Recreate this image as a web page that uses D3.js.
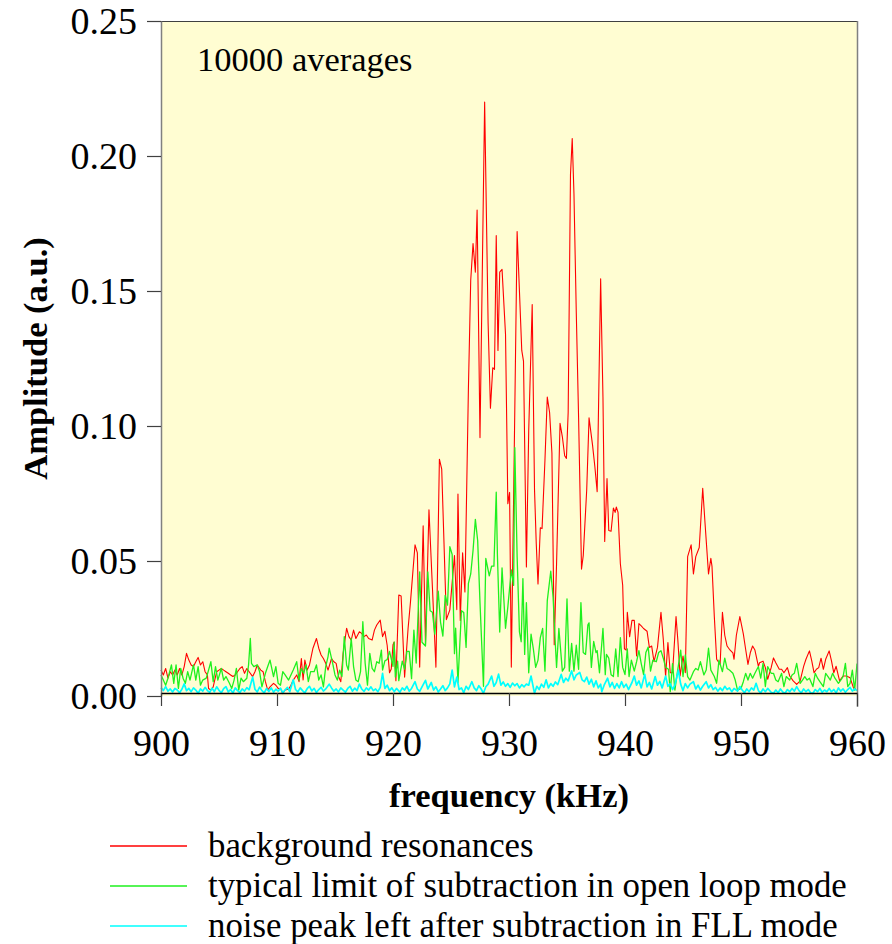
<!DOCTYPE html>
<html><head><meta charset="utf-8">
<script src="https://cdn.jsdelivr.net/npm/d3@7"></script>
<style>body{margin:0;background:#fff}svg text{font-family:"Liberation Serif","Times New Roman",serif}</style>
</head><body>
<svg id="chart" width="892" height="944"></svg>
<script>
// amplitude values in thousandths of a.u. (milli a.u.), [frequency kHz, amplitude]
const backgroundResonances = [
[900.0,9.6],[900.2,7.8],[900.4,10.2],[900.6,6.6],[900.8,9.0],[901.0,7.8],[901.2,9.6],[901.4,7.8],[901.6,10.2],[901.8,7.8],[902.0,10.9],[902.2,15.8],[902.4,13.3],[902.6,11.5],[902.8,10.9],[903.0,12.7],[903.2,14.3],[903.4,11.5],[903.6,12.7],[903.8,9.0],[904.0,7.8],[904.1,2.8],[904.3,2.2],[904.5,3.4],[904.8,9.0],[905.0,9.6],[905.2,10.2],[905.4,9.6],[905.6,9.0],[905.8,8.4],[906.0,7.8],[906.2,7.2],[906.4,7.8],[906.6,9.0],[906.8,10.2],[907.0,10.9],[907.2,8.4],[907.4,10.2],[907.6,9.0],[907.9,7.2],[908.1,9.0],[908.3,11.5],[908.6,9.6],[908.8,9.0],[909.0,5.3],[909.2,2.2],[909.4,3.4],[909.7,4.7],[909.9,4.0],[910.1,2.8],[910.3,2.8],[910.5,0.9],[910.7,2.2],[911.0,2.5],[911.2,4.0],[911.4,5.9],[911.7,7.8],[911.9,5.3],[912.1,13.9],[912.25,5.9],[912.4,13.3],[912.6,9.6],[912.8,11.5],[913.1,17.7],[913.4,21.3],[913.6,17.7],[913.8,15.2],[914.0,13.9],[914.2,12.1],[914.4,9.6],[914.7,13.9],[914.9,12.7],[915.1,12.1],[915.3,7.2],[915.5,5.3],[915.7,15.8],[916.0,25.1],[916.2,22.0],[916.4,20.7],[916.6,24.4],[916.8,21.3],[917.1,23.8],[917.3,23.2],[917.5,22.0],[917.7,22.6],[917.9,21.3],[918.2,20.7],[918.4,24.4],[918.6,26.3],[918.9,28.1],[919.1,22.0],[919.3,24.0],[919.5,18.7],[919.7,8.6],[919.85,10.0],[920.0,19.0],[920.1,20.0],[920.25,5.7],[920.5,37.4],[920.7,37.0],[921.0,7.0],[921.3,25.0],[921.5,34.5],[921.9,56.0],[922.1,53.0],[922.3,10.7],[922.6,63.0],[922.8,19.0],[923.1,69.0],[923.4,40.0],[923.7,10.7],[924.0,87.7],[924.2,84.0],[924.6,28.3],[924.9,31.9],[925.3,52.0],[925.5,32.0],[925.6,74.8],[925.8,28.0],[926.0,53.0],[926.2,38.5],[926.5,113.7],[926.7,154.0],[926.9,167.6],[927.1,157.0],[927.25,180.0],[927.5,95.7],[927.9,220.0],[928.2,138.0],[928.4,106.6],[928.6,121.6],[928.75,121.0],[928.9,170.5],[929.05,128.0],[929.2,157.0],[929.4,158.0],[929.7,134.0],[929.9,71.2],[930.05,75.4],[930.2,10.7],[930.5,106.0],[930.7,172.0],[930.9,150.0],[931.1,128.0],[931.25,124.0],[931.5,47.8],[931.7,98.3],[932.0,145.0],[932.2,76.4],[932.35,56.4],[932.5,41.5],[932.7,62.3],[932.85,62.0],[933.1,87.4],[933.3,110.7],[933.5,105.0],[933.7,90.0],[933.9,19.0],[934.1,49.0],[934.4,101.0],[934.6,96.0],[934.8,89.0],[934.95,88.0],[935.1,105.0],[935.3,193.0],[935.45,206.5],[935.6,186.0],[935.8,142.0],[936.0,103.0],[936.25,47.0],[936.4,52.0],[936.7,76.4],[936.9,103.0],[937.2,93.0],[937.4,85.0],[937.6,75.7],[937.9,154.5],[938.1,110.7],[938.25,57.2],[938.45,80.5],[938.6,61.3],[938.8,61.0],[939.0,69.6],[939.15,68.0],[939.25,70.0],[939.4,68.0],[939.6,49.0],[939.8,41.0],[939.95,17.5],[940.1,17.0],[940.2,31.0],[940.4,22.0],[940.6,28.0],[940.8,28.0],[941.0,14.8],[941.2,26.8],[941.4,26.0],[941.6,25.0],[941.9,24.0],[942.1,18.0],[942.3,18.5],[942.5,12.7],[942.8,18.0],[943.1,31.0],[943.3,21.0],[943.5,7.2],[943.7,19.8],[943.9,8.6],[944.1,8.6],[944.4,29.4],[944.55,21.0],[944.75,7.4],[945.0,14.8],[945.2,8.6],[945.4,51.6],[945.7,56.0],[945.9,45.2],[946.1,51.6],[946.4,55.0],[946.7,76.9],[946.9,64.0],[947.2,45.2],[947.4,51.0],[947.5,48.0],[947.7,29.4],[947.9,13.6],[948.2,11.7],[948.4,31.0],[948.6,22.5],[948.8,18.5],[949.0,17.3],[949.3,16.0],[949.4,13.6],[949.6,22.5],[949.9,29.4],[950.2,23.0],[950.4,17.3],[950.6,11.7],[950.8,16.0],[951.0,18.5],[951.2,17.0],[951.5,11.0],[951.6,12.3],[951.9,12.9],[952.1,10.5],[952.3,6.2],[952.6,10.5],[952.8,14.1],[953.0,12.3],[953.3,9.9],[953.5,9.9],[953.7,8.6],[954.0,10.5],[954.2,7.4],[954.5,5.6],[954.8,4.3],[955.1,5.6],[955.4,11.0],[955.6,13.6],[955.9,16.7],[956.1,13.0],[956.3,8.6],[956.5,9.9],[956.7,10.5],[956.9,14.0],[957.1,9.9],[957.3,13.6],[957.6,16.7],[957.8,13.0],[958.0,8.6],[958.2,11.0],[958.5,5.6],[958.8,7.4],[959.1,7.4],[959.4,6.8],[959.7,3.0],[959.9,2.5]
];
const openLoopLimit = [
[900.0,7.8],[900.2,5.9],[900.4,4.0],[900.6,6.6],[900.9,11.5],[901.1,4.7],[901.3,11.5],[901.5,2.8],[901.7,10.2],[901.9,6.6],[902.1,4.7],[902.3,9.0],[902.5,5.9],[902.8,11.5],[903.0,5.9],[903.2,10.9],[903.4,4.0],[903.6,5.9],[903.9,6.6],[904.1,9.6],[904.3,12.7],[904.5,5.3],[904.7,10.9],[904.9,5.9],[905.2,10.2],[905.4,5.9],[905.6,7.2],[905.9,4.7],[906.1,2.8],[906.3,5.9],[906.5,10.2],[906.7,2.2],[906.9,6.6],[907.1,5.3],[907.4,6.6],[907.55,11.5],[907.7,21.3],[907.8,12.1],[908.0,10.9],[908.3,11.5],[908.5,9.0],[908.7,3.4],[909.0,8.4],[909.2,10.9],[909.4,13.3],[909.7,7.2],[909.9,10.9],[910.1,4.7],[910.3,4.0],[910.5,9.0],[910.7,7.8],[911.0,5.9],[911.2,7.8],[911.4,9.6],[911.7,12.7],[911.9,5.9],[912.1,10.2],[912.3,8.4],[912.5,11.5],[912.7,5.3],[912.9,9.0],[913.2,9.0],[913.4,11.5],[913.6,5.9],[913.8,7.8],[914.0,3.4],[914.2,10.9],[914.4,14.6],[914.5,17.7],[914.8,12.1],[915.0,7.8],[915.2,5.9],[915.4,9.6],[915.6,7.2],[915.8,22.0],[916.0,11.5],[916.15,9.6],[916.4,21.3],[916.6,10.9],[916.8,5.9],[917.0,5.3],[917.2,9.0],[917.4,27.5],[917.6,12.1],[917.8,4.0],[918.0,15.8],[918.2,10.2],[918.4,9.0],[918.6,12.7],[918.8,12.1],[919.0,17.0],[919.1,9.6],[919.3,13.0],[919.5,13.5],[919.7,16.5],[920.0,11.0],[920.1,19.9],[920.2,7.0],[920.4,12.9],[920.5,5.7],[920.8,12.9],[921.0,9.9],[921.2,16.5],[921.4,16.5],[921.6,6.4],[921.8,24.4],[922.0,12.2],[922.3,46.0],[922.5,19.9],[922.8,18.5],[923.0,46.0],[923.2,31.6],[923.4,31.0],[923.6,22.9],[923.9,38.8],[924.1,27.3],[924.3,22.2],[924.5,37.3],[924.7,33.7],[924.9,55.3],[925.1,52.4],[925.3,15.7],[925.4,25.1],[925.6,5.0],[925.9,31.6],[926.1,30.9],[926.3,18.0],[926.5,41.7],[926.7,45.2],[926.9,53.9],[927.1,65.4],[927.3,57.5],[927.5,34.5],[927.8,3.6],[928.0,51.0],[928.3,44.5],[928.5,48.1],[928.7,48.1],[928.9,75.5],[929.0,52.4],[929.2,23.7],[929.4,47.4],[929.7,25.1],[929.9,33.0],[930.2,46.7],[930.4,41.0],[930.5,92.0],[930.7,51.7],[930.9,23.7],[931.05,20.1],[931.2,43.5],[931.35,15.4],[931.5,34.6],[931.7,8.6],[931.9,22.9],[932.1,17.4],[932.3,10.6],[932.5,13.3],[932.7,21.6],[932.9,25.0],[933.1,9.2],[933.3,35.3],[933.6,46.2],[933.8,36.6],[934.0,18.8],[934.1,10.6],[934.3,25.0],[934.6,9.2],[934.8,10.6],[935.0,36.0],[935.2,9.2],[935.4,19.5],[935.6,9.2],[935.8,18.8],[936.0,9.9],[936.2,34.6],[936.4,16.1],[936.6,15.4],[936.8,26.4],[936.9,27.1],[937.1,10.6],[937.3,20.2],[937.5,16.1],[937.6,16.8],[937.8,8.6],[938.1,25.0],[938.3,7.9],[938.4,15.4],[938.6,14.0],[938.8,7.9],[939.0,7.2],[939.2,17.4],[939.4,7.2],[939.6,21.6],[939.8,10.6],[940.0,7.9],[940.2,17.4],[940.35,7.2],[940.55,13.3],[940.8,9.2],[941.0,12.7],[941.2,16.8],[941.4,12.0],[941.6,7.9],[941.8,16.1],[942.0,18.1],[942.2,9.2],[942.4,13.3],[942.7,12.7],[942.9,16.1],[943.1,16.8],[943.3,14.0],[943.5,10.6],[943.75,9.9],[943.9,1.6],[944.1,12.0],[944.3,2.2],[944.5,8.4],[944.8,17.0],[945.0,7.2],[945.2,15.2],[945.4,7.2],[945.6,5.9],[945.9,9.0],[946.1,10.2],[946.3,9.6],[946.5,12.7],[946.8,7.8],[947.0,9.6],[947.2,17.7],[947.4,9.6],[947.7,7.2],[947.9,4.7],[948.1,13.3],[948.4,9.0],[948.6,14.0],[948.8,10.2],[949.0,9.6],[949.3,8.4],[949.5,5.9],[949.7,2.2],[950.0,2.8],[950.2,5.3],[950.4,8.4],[950.6,5.9],[950.8,8.4],[951.0,6.6],[951.2,8.4],[951.5,10.9],[951.7,6.6],[951.9,12.1],[952.1,3.5],[952.3,10.9],[952.6,8.4],[952.8,8.4],[953.0,5.9],[953.2,5.3],[953.5,8.4],[953.7,3.5],[953.9,7.2],[954.2,5.9],[954.4,7.8],[954.6,8.4],[954.8,12.1],[955.1,4.7],[955.3,5.9],[955.5,7.2],[955.7,5.9],[955.9,6.6],[956.2,3.5],[956.4,8.4],[956.6,6.6],[956.8,5.3],[957.1,3.5],[957.3,8.4],[957.5,7.2],[957.7,5.9],[957.9,8.4],[958.1,6.6],[958.4,4.7],[958.6,5.9],[958.8,7.2],[959.0,12.1],[959.2,3.5],[959.4,4.7],[959.6,9.6],[959.8,2.2],[960.0,12.0]
];
const fllNoise = [
[900.0,3.1],[900.2,2.0],[900.4,3.5],[900.6,1.8],[900.8,2.6],[901.0,1.5],[901.2,2.8],[901.4,2.2],[901.6,1.2],[901.8,2.5],[902.0,4.5],[902.2,2.0],[902.4,2.8],[902.6,1.6],[902.8,3.0],[903.0,2.2],[903.2,1.0],[903.4,2.6],[903.6,1.8],[903.8,3.2],[904.0,2.0],[904.2,1.4],[904.4,2.9],[904.6,1.6],[904.8,3.4],[905.0,2.1],[905.2,1.2],[905.4,2.7],[905.6,3.5],[905.8,1.5],[906.0,2.4],[906.2,1.1],[906.4,3.0],[906.6,2.0],[906.8,1.3],[907.0,2.6],[907.2,1.8],[907.4,3.1],[907.6,2.3],[907.9,7.0],[908.1,2.5],[908.3,1.5],[908.5,3.3],[908.7,2.0],[908.9,1.2],[909.1,2.8],[909.3,1.7],[909.5,3.0],[909.7,1.4],[909.9,2.5],[910.1,1.8],[910.3,2.9],[910.5,1.2],[910.7,2.3],[910.9,3.2],[911.1,1.6],[911.4,6.0],[911.6,2.4],[911.8,1.5],[912.0,3.0],[912.2,2.0],[912.4,1.2],[912.6,2.7],[912.8,3.6],[913.0,1.9],[913.2,2.8],[913.4,1.3],[913.6,2.4],[913.8,3.2],[914.0,1.8],[914.2,2.6],[914.5,4.4],[914.7,3.0],[914.9,1.8],[915.1,2.6],[915.3,1.5],[915.5,3.0],[915.7,2.2],[915.9,1.4],[916.1,2.8],[916.3,3.6],[916.5,1.8],[916.7,2.9],[916.9,2.0],[917.1,4.4],[917.3,2.6],[917.5,1.7],[917.7,3.0],[917.9,2.2],[918.1,3.4],[918.3,2.0],[918.5,2.6],[918.7,1.6],[918.9,3.2],[919.1,8.4],[919.3,2.8],[919.5,4.0],[919.7,2.0],[919.9,3.0],[920.1,1.6],[920.3,2.8],[920.6,1.4],[920.8,3.0],[921.0,2.2],[921.2,3.6],[921.4,1.8],[921.6,2.8],[921.9,5.3],[922.1,2.6],[922.3,1.7],[922.5,3.4],[922.8,5.8],[923.0,2.6],[923.3,5.0],[923.5,2.2],[923.7,3.4],[923.9,1.5],[924.1,2.6],[924.3,3.8],[924.5,2.0],[924.7,3.0],[924.9,4.5],[925.1,9.6],[925.3,3.4],[925.5,7.0],[925.7,2.4],[925.9,3.0],[926.1,1.2],[926.3,3.6],[926.5,2.4],[926.8,5.3],[927.0,3.0],[927.2,2.0],[927.4,3.8],[927.6,2.6],[927.8,1.0],[928.0,3.4],[928.2,4.4],[928.5,7.4],[928.7,3.6],[928.9,5.0],[929.1,8.1],[929.3,4.0],[929.5,5.2],[929.7,3.6],[929.9,4.6],[930.1,3.2],[930.3,4.8],[930.5,3.8],[930.7,4.6],[930.9,3.0],[931.1,4.2],[931.3,3.4],[931.5,4.4],[931.7,4.0],[931.9,7.4],[932.2,1.0],[932.4,3.6],[932.6,2.4],[932.8,4.4],[933.0,3.2],[933.2,6.0],[933.4,3.0],[933.6,4.6],[933.8,3.6],[934.0,5.2],[934.2,4.2],[934.5,8.0],[934.7,5.0],[934.9,6.6],[935.1,5.6],[935.4,9.3],[935.6,6.0],[935.8,7.8],[936.1,8.7],[936.3,6.0],[936.5,5.3],[936.7,7.0],[936.9,4.4],[937.1,6.2],[937.3,3.4],[937.5,5.6],[937.7,3.0],[937.9,4.4],[938.0,1.6],[938.2,4.0],[938.5,6.6],[938.7,3.4],[938.9,5.0],[939.1,2.8],[939.3,4.6],[939.5,3.0],[939.7,5.3],[939.9,3.2],[940.1,4.4],[940.3,2.4],[940.6,5.0],[940.8,7.4],[941.0,4.0],[941.2,5.6],[941.4,3.0],[941.7,8.0],[941.9,3.4],[942.1,5.0],[942.3,2.6],[942.6,7.2],[942.8,4.0],[943.0,5.4],[943.2,3.0],[943.5,7.4],[943.7,3.6],[943.9,4.6],[944.1,2.4],[944.3,4.0],[944.6,9.6],[944.8,4.4],[945.0,2.0],[945.2,4.6],[945.4,3.0],[945.6,4.4],[945.9,5.3],[946.1,2.6],[946.3,4.0],[946.5,2.2],[946.7,3.6],[947.0,5.3],[947.2,3.0],[947.4,4.2],[947.6,2.4],[947.8,3.2],[948.0,1.8],[948.2,3.0],[948.4,2.0],[948.6,3.6],[948.8,2.4],[949.0,3.0],[949.2,1.6],[949.4,2.8],[949.7,1.8],[949.9,3.5],[950.1,2.2],[950.3,1.2],[950.5,2.6],[950.7,1.6],[950.9,3.0],[951.1,2.2],[951.3,4.7],[951.5,2.0],[951.7,1.2],[951.9,2.6],[952.1,1.6],[952.3,2.8],[952.6,1.4],[952.8,1.0],[953.0,2.2],[953.2,1.2],[953.4,2.6],[953.6,1.5],[953.8,1.0],[954.0,2.4],[954.2,1.6],[954.4,2.8],[954.6,1.8],[954.8,3.5],[955.0,2.0],[955.2,1.2],[955.4,2.6],[955.6,1.6],[955.8,2.4],[956.0,1.2],[956.2,1.0],[956.4,2.4],[956.6,1.6],[956.8,2.8],[957.0,1.4],[957.2,2.2],[957.4,1.6],[957.6,2.8],[957.8,1.6],[958.0,2.4],[958.2,1.2],[958.4,3.0],[958.6,1.8],[958.8,2.6],[959.0,1.4],[959.2,2.4],[959.4,3.2],[959.6,1.8],[959.8,2.6],[960.0,2.0]
];
const xTicks = [900, 910, 920, 930, 940, 950, 960];
const yTicks = [0, 0.05, 0.10, 0.15, 0.20, 0.25];
const seriesNames = ["background resonances", "typical limit of subtraction in open loop mode", "noise peak left after subtraction in FLL mode"];
const seriesColors = ["#ff0000", "#1ef01e", "#00ffff"];
const annotation = "10000 averages";

const FONT = "'Liberation Serif', 'Times New Roman', serif";
const svg = d3.select("#chart");
const L = 161, R = 857, T = 21, B = 696;
const x = d3.scaleLinear().domain([900, 960]).range([L, R]);
const y = d3.scaleLinear().domain([0, 0.25]).range([B, T]);

svg.append("rect").attr("x", L).attr("y", T).attr("width", R - L + 1).attr("height", B - T)
  .attr("fill", "#fffdd2");

const line = d3.line().x(d => x(d[0])).y(d => y(d[1] / 1000));
const g = svg.append("g");
g.append("path").datum(backgroundResonances).attr("d", line).attr("fill", "none")
  .attr("stroke", seriesColors[0]).attr("stroke-width", 1.1).attr("stroke-linejoin", "round");
g.append("path").datum(openLoopLimit).attr("d", line).attr("fill", "none")
  .attr("stroke", seriesColors[1]).attr("stroke-width", 1.3).attr("stroke-linejoin", "round");
g.append("path").datum(fllNoise).attr("d", line).attr("fill", "none")
  .attr("stroke", seriesColors[2]).attr("stroke-width", 1.7).attr("stroke-linejoin", "round");

// frame: top and right borders
svg.append("line").attr("x1", L).attr("x2", R + 1).attr("y1", T + 0.5).attr("y2", T + 0.5)
  .attr("stroke", "#404040").attr("stroke-width", 1);
svg.append("line").attr("x1", R + 0.5).attr("x2", R + 0.5).attr("y1", T).attr("y2", 707)
  .attr("stroke", "#808080").attr("stroke-width", 1.5);

// y axis
const yAxis = svg.append("g").attr("transform", `translate(${L},0)`)
  .call(d3.axisLeft(y).tickValues(yTicks).tickFormat(d3.format(".2f")).tickSize(14).tickPadding(10).tickSizeOuter(0));
yAxis.attr("font-family", FONT);
yAxis.select(".domain").attr("stroke", "#808080").attr("stroke-width", 1.5);
yAxis.selectAll(".tick line").attr("stroke", "#404040").attr("stroke-width", 1.2);
yAxis.selectAll("text").attr("font-size", 38).attr("fill", "#000").attr("font-family", FONT);

// x axis
const xAxisY = B - 3;
const xAxis = svg.append("g").attr("transform", `translate(0,${xAxisY})`)
  .call(d3.axisBottom(x).tickValues(xTicks).tickFormat(d3.format("d")).tickSize(13).tickPadding(23).tickSizeOuter(0));
xAxis.attr("font-family", FONT);
xAxis.select(".domain").attr("stroke", "#000").attr("stroke-width", 1.5);
xAxis.selectAll(".tick line").attr("stroke", "#404040").attr("stroke-width", 1.2);
xAxis.selectAll("text").attr("font-size", 38).attr("fill", "#000").attr("font-family", FONT);

// titles
svg.append("text").attr("x", (L + R) / 2).attr("y", 807).attr("text-anchor", "middle")
  .attr("font-family", FONT).attr("font-size", 34.5).attr("font-weight", "bold").text("frequency (kHz)");
svg.append("text").attr("transform", `translate(47,${(T + B) / 2}) rotate(-90)`)
  .attr("text-anchor", "middle").attr("font-family", FONT).attr("font-size", 34.5)
  .attr("font-weight", "bold").text("Amplitude (a.u.)");
svg.append("text").attr("x", 197).attr("y", 71).attr("font-family", FONT).attr("font-size", 34.5).text(annotation);

// legend
seriesNames.forEach((name, i) => {
  const ly = 846 + i * 40;
  svg.append("line").attr("x1", 110).attr("x2", 187).attr("y1", ly).attr("y2", ly)
    .attr("stroke", seriesColors[i]).attr("stroke-width", 1.3);
  svg.append("text").attr("x", 208).attr("y", ly + 11).attr("font-family", FONT)
    .attr("font-size", 34.8).text(name);
});
</script>
</body></html>
